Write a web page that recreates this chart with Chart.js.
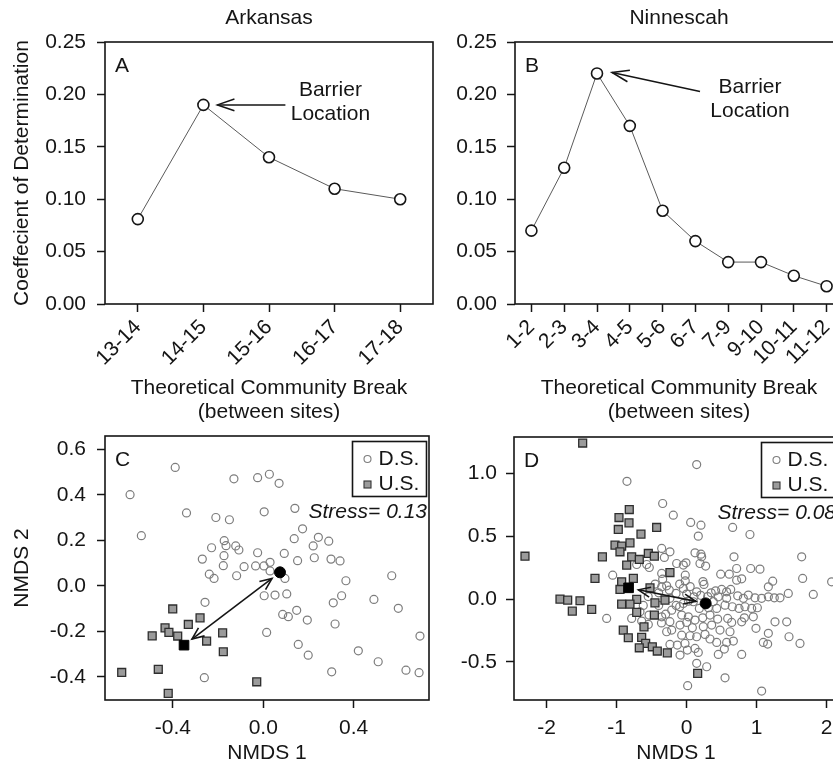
<!DOCTYPE html>
<html>
<head>
<meta charset="utf-8">
<title>Barrier location and NMDS ordination</title>
<script src="https://cdn.jsdelivr.net/npm/chart.js@4.4.1/dist/chart.umd.min.js"></script>
<style>
  html, body { margin: 0; padding: 0; background: #fff; overflow: hidden; }
  #fig { position: relative; width: 833px; height: 771px; overflow: hidden; background: #fff; }
  #fig canvas { position: absolute; }
</style>
</head>
<body>
<div id="fig">
  <canvas id="panelA" width="470" height="430" style="left:0;top:0"></canvas>
  <canvas id="panelB" width="470" height="430" style="left:415px;top:0"></canvas>
  <canvas id="panelC" width="470" height="386" style="left:0;top:385px"></canvas>
  <canvas id="panelD" width="470" height="386" style="left:415px;top:385px"></canvas>
</div>
<script>
// --- Panel A / B : coefficient of determination per community break ---
const ARK_BREAKS = ['13-14', '14-15', '15-16', '16-17', '17-18'];
const ARK_R2 = [0.081, 0.19, 0.14, 0.11, 0.10];

const NIN_BREAKS = ['1-2', '2-3', '3-4', '4-5', '5-6', '6-7', '7-9', '9-10', '10-11', '11-12'];
const NIN_R2 = [0.07, 0.13, 0.22, 0.17, 0.089, 0.06, 0.04, 0.04, 0.027, 0.017];

const R2_TICKS = [0, 0.05, 0.10, 0.15, 0.20, 0.25];

// --- Panel C : Arkansas NMDS ---
const C_DS = [
  [-0.59, 0.40], [-0.54, 0.22], [-0.39, 0.52], [-0.34, 0.32], [-0.21, 0.30], [-0.15, 0.29],
  [-0.13, 0.47], [-0.025, 0.475], [0.027, 0.49], [0.07, 0.45], [0.004, 0.325], [0.14, 0.34],
  [0.174, 0.25], [0.137, 0.207], [0.244, 0.213], [0.29, 0.196], [0.221, 0.175],
  [-0.173, 0.198], [-0.165, 0.176], [-0.122, 0.175], [-0.108, 0.157], [-0.229, 0.167],
  [-0.27, 0.117], [-0.174, 0.132], [-0.177, 0.088], [-0.239, 0.051], [-0.218, 0.032],
  [-0.118, 0.044], [-0.085, 0.084], [-0.034, 0.087], [-0.025, 0.145], [0.003, 0.087],
  [0.03, 0.103], [0.093, 0.142], [0.152, 0.11], [0.226, 0.123], [0.30, 0.117], [0.34, 0.109],
  [0.096, 0.032], [0.03, 0.065], [0.366, 0.022], [0.569, 0.044],
  [-0.258, -0.073], [0.004, -0.044], [0.052, -0.041], [0.104, -0.036], [0.347, -0.044],
  [0.31, -0.075], [0.49, -0.06], [0.598, -0.099], [0.086, -0.126], [0.111, -0.136],
  [0.148, -0.108], [0.195, -0.151], [0.318, -0.168], [0.015, -0.205], [0.694, -0.221],
  [0.155, -0.258], [0.199, -0.305], [0.421, -0.286], [0.509, -0.334], [0.303, -0.378],
  [0.632, -0.371], [0.69, -0.382], [-0.261, -0.404]
];
const C_US = [
  [-0.401, -0.102], [-0.28, -0.141], [-0.332, -0.17], [-0.435, -0.185], [-0.418, -0.205],
  [-0.492, -0.22], [-0.379, -0.221], [-0.251, -0.243], [-0.18, -0.207], [-0.177, -0.29],
  [-0.627, -0.381], [-0.465, -0.367], [-0.421, -0.473], [-0.029, -0.422]
];
const C_DS_CENTROID = [[0.074, 0.059]];
const C_US_CENTROID = [[-0.351, -0.261]];
const C_X_TICKS = [-0.4, 0, 0.4];
const C_Y_TICKS = [-0.4, -0.2, 0, 0.2, 0.4, 0.6];

// --- Panel D : Ninnescah NMDS ---
const D_DS = [
  [0.143, 1.072], [-0.853, 0.939], [-0.343, 0.762], [-0.191, 0.669], [0.057, 0.611], [0.204, 0.589],
  [0.166, 0.502], [0.657, 0.571], [0.904, 0.515],
  [-0.357, 0.404], [-0.239, 0.377], [-0.319, 0.332], [0.119, 0.369], [0.204, 0.358], [0.214, 0.337],
  [-0.010, 0.289], [0.190, 0.284], [0.271, 0.263], [0.676, 0.337], [1.643, 0.337],
  [0.714, 0.244], [0.914, 0.244], [1.047, 0.239], [-0.714, 0.276], [-0.571, 0.276], [-0.534, 0.252],
  [-0.143, 0.284], [-0.048, 0.271],
  [1.657, 0.165], [2.071, 0.138], [1.809, 0.037], [0.486, 0.199], [0.609, 0.199], [1.229, 0.143],
  [1.167, 0.098], [0.714, 0.151], [0.786, 0.162],
  [-0.357, 0.205], [-0.343, 0.159], [-0.02, 0.191], [-0.02, 0.145], [0.233, 0.14],
  [0.414, 0.066], [0.5, 0.077], [0.571, 0.058], [0.629, 0.077], [0.247, 0.117], [0.452, 0.018],
  [-0.357, 0.098], [-0.286, 0.106], [-0.248, 0.072], [-0.152, 0.045], [-0.239, 0.006], [-0.048, 0.085],
  [0.024, -0.016], [0.104, 0.018], [0.143, 0.058], [-0.048, -0.034], [0.095, -0.021],
  [0.571, 0.006], [0.729, 0.026], [0.810, 0.006], [0.881, 0.032], [0.976, 0.010], [1.071, 0.006],
  [1.167, 0.018], [1.252, 0.010], [1.333, 0.010], [1.452, 0.045],
  [0.181, -0.074], [0.310, -0.069], [0.429, -0.074], [0.548, -0.048], [0.652, -0.061], [0.748, -0.074],
  [0.833, -0.061], [0.929, -0.074], [1.010, -0.069],
  [-1.143, -0.154], [-1.057, 0.191],
  [-0.667, -0.101], [-0.538, -0.127], [-0.357, -0.141], [-0.214, -0.088], [-0.071, -0.127],
  [0.024, -0.141], [0.119, -0.167], [0.229, -0.149], [0.333, -0.127], [0.443, -0.159], [0.586, -0.154],
  [0.643, -0.186], [0.824, -0.149], [0.952, -0.141], [-0.786, -0.154], [-0.643, -0.175],
  [-0.548, -0.202], [-0.36, -0.19], [-0.24, -0.18],
  [-0.095, -0.207], [0, -0.186], [0.081, -0.228], [0.238, -0.220], [0.357, -0.207], [0.476, -0.247],
  [0.619, -0.260], [0.786, -0.181], [0.990, -0.233], [1.167, -0.273], [1.262, -0.181], [1.429, -0.181],
  [1.462, -0.300], [1.619, -0.353], [1.095, -0.345], [1.157, -0.358],
  [-0.286, -0.260], [-0.214, -0.247], [-0.071, -0.287], [0.048, -0.292], [0.143, -0.300],
  [0.262, -0.281], [0.333, -0.318], [0.429, -0.345], [0.571, -0.345], [0.667, -0.334],
  [-0.239, -0.361], [-0.134, -0.366], [-0.024, -0.353], [0.119, -0.393], [0.166, -0.425],
  [-0.095, -0.446], [0.010, -0.406], [0.452, -0.441], [0.538, -0.398], [0.786, -0.441],
  [0.143, -0.512], [0.286, -0.539], [0.548, -0.627], [0.014, -0.690], [1.071, -0.733],
  [-0.45, 0.12], [-0.40, 0.05], [-0.10, 0.12], [0.05, 0.10], [0.35, 0.05], [-0.55, 0.02],
  [-0.62, -0.05], [-0.40, -0.05], [-0.30, -0.12], [-0.15, -0.05], [0.30, 0.02], [0.38, -0.02],
  [0.20, 0.03], [0.00, 0.04], [-0.10, -0.06]
];
const D_US = [
  [-1.486, 1.244], [-2.310, 0.342], [-0.820, 0.714], [-0.967, 0.650], [-0.824, 0.608], [-0.977, 0.555],
  [-0.429, 0.571], [-0.653, 0.518], [-1.024, 0.430], [-0.929, 0.422], [-0.810, 0.448], [-1.204, 0.337],
  [-0.953, 0.377], [-0.786, 0.337], [-0.677, 0.316], [-0.548, 0.364], [-0.462, 0.342], [-0.857, 0.271],
  [-1.310, 0.165], [-0.762, 0.165], [-0.239, 0.212], [-0.929, 0.138], [-1.810, 0.000], [-1.700, -0.008],
  [-1.524, -0.013], [-1.634, -0.096], [-1.357, -0.082], [-0.953, 0.077], [-0.714, -0.002], [-0.929, -0.040],
  [-0.810, -0.040], [-0.714, -0.106], [-0.453, -0.030], [-0.524, 0.090], [-0.310, -0.008], [-0.462, -0.127],
  [-0.906, -0.247], [-0.610, -0.221], [-0.643, -0.305], [-0.834, -0.308], [-0.586, -0.353], [-0.677, -0.388],
  [-0.491, -0.380], [-0.420, -0.414], [-0.277, -0.428], [0.157, -0.592]
];
const D_DS_CENTROID = [[0.271, -0.034]];
const D_US_CENTROID = [[-0.83, 0.09]];
const D_X_TICKS = [-2, -1, 0, 1, 2];
const D_Y_TICKS = [-0.5, 0, 0.5, 1.0];

const FONT = "'Liberation Sans', Arial, Helvetica, sans-serif";
const INK = '#151515';
const FS = 21;

Chart.defaults.font.family = FONT;
Chart.defaults.font.size = FS;
Chart.defaults.color = INK;

// per-panel decorations (titles, letters, notes, legend box)
const DECOR = {
  panelA: { title: 'Arkansas', letter: 'A',
            note: { index: 1, tip: [14, 0], tail: [82, 0], text: [127, -15] } },
  panelB: { title: 'Ninnescah', letter: 'B',
            note: { index: 2, tip: [15, -1], tail: [103, 18], text: [153, 14] } },
  panelC: { letter: 'C', stress: 'Stress= 0.13', legend: true,
            from: C_US_CENTROID[0], to: C_DS_CENTROID[0] },
  panelD: { letter: 'D', stress: 'Stress= 0.08', legend: true,
            from: D_US_CENTROID[0], to: D_DS_CENTROID[0] }
};

function arrowHead(ctx, x, y, fromX, fromY, len, half) {
  const ang = Math.atan2(y - fromY, x - fromX);
  ctx.beginPath();
  ctx.moveTo(x - len * Math.cos(ang - half), y - len * Math.sin(ang - half));
  ctx.lineTo(x, y);
  ctx.lineTo(x - len * Math.cos(ang + half), y - len * Math.sin(ang + half));
  ctx.stroke();
}

const panelDecor = {
  id: 'panelDecor',
  beforeDatasetsDraw(chart) {
    const { ctx, chartArea: a } = chart;
    ctx.save();
    ctx.strokeStyle = INK;
    ctx.lineWidth = 1.6;
    ctx.strokeRect(a.left, a.top, a.right - a.left, a.bottom - a.top);
    ctx.restore();
  },
  afterDraw(chart) {
    const d = DECOR[chart.canvas.id];
    const { ctx, chartArea: a } = chart;
    ctx.save();
    ctx.fillStyle = INK;
    ctx.strokeStyle = INK;
    ctx.font = FS + 'px ' + FONT;
    ctx.textBaseline = 'middle';

    if (d.title) {
      ctx.textAlign = 'center';
      ctx.fillText(d.title, (a.left + a.right) / 2, 18);
    }
    ctx.textAlign = 'left';
    ctx.fillText(d.letter, a.left + 10, a.top + 24);

    // "Barrier Location" note pointing at a data point
    if (d.note) {
      const p = chart.getDatasetMeta(0).data[d.note.index];
      const tx = p.x + d.note.tip[0], ty = p.y + d.note.tip[1];
      const fx = p.x + d.note.tail[0], fy = p.y + d.note.tail[1];
      ctx.lineWidth = 1.5;
      ctx.beginPath();
      ctx.moveTo(fx, fy);
      ctx.lineTo(tx, ty);
      ctx.stroke();
      arrowHead(ctx, tx, ty, fx, fy, 18, 0.33);
      ctx.textAlign = 'center';
      ctx.fillText('Barrier', p.x + d.note.text[0], p.y + d.note.text[1]);
      ctx.fillText('Location', p.x + d.note.text[0], p.y + d.note.text[1] + 24);
    }

    // centroid-to-centroid double arrow
    if (d.from) {
      const xs = chart.scales.x, ys = chart.scales.y;
      const x1 = xs.getPixelForValue(d.from[0]), y1 = ys.getPixelForValue(d.from[1]);
      const x2 = xs.getPixelForValue(d.to[0]), y2 = ys.getPixelForValue(d.to[1]);
      const len = Math.hypot(x2 - x1, y2 - y1), gap = 10;
      const ux = (x2 - x1) / len, uy = (y2 - y1) / len;
      const ax = x1 + ux * gap, ay = y1 + uy * gap;
      const bx = x2 - ux * gap, by = y2 - uy * gap;
      ctx.lineWidth = 1.6;
      ctx.beginPath();
      ctx.moveTo(ax, ay);
      ctx.lineTo(bx, by);
      ctx.stroke();
      arrowHead(ctx, ax, ay, bx, by, 13, 0.4);
      arrowHead(ctx, bx, by, ax, ay, 13, 0.4);
    }

    if (d.stress) {
      ctx.font = 'italic ' + FS + 'px ' + FONT;
      ctx.textAlign = 'right';
      ctx.fillText(d.stress, a.right - 2, a.top + 76);
      ctx.font = FS + 'px ' + FONT;
    }

    if (d.legend) {
      const bw = 74, bh = 55;
      const bl = a.right - 2.5 - bw, bt = a.top + 5.5;
      ctx.lineWidth = 1.6;
      ctx.strokeStyle = INK;
      ctx.strokeRect(bl, bt, bw, bh);
      ctx.textAlign = 'left';
      // D.S. marker
      ctx.lineWidth = 1.1;
      ctx.strokeStyle = '#7d7d7d';
      ctx.beginPath();
      ctx.arc(bl + 15, bt + 17.5, 3.5, 0, Math.PI * 2);
      ctx.stroke();
      ctx.fillText('D.S.', bl + 26, bt + 17.5);
      // U.S. marker
      ctx.fillStyle = '#9b9b9b';
      ctx.strokeStyle = '#333';
      ctx.fillRect(bl + 11.5, bt + 39.5, 7, 7);
      ctx.strokeRect(bl + 11.5, bt + 39.5, 7, 7);
      ctx.fillStyle = INK;
      ctx.fillText('U.S.', bl + 26, bt + 43);
    }
    ctx.restore();
  }
};

const tickOnly = {
  display: true, drawOnChartArea: false, drawTicks: true,
  tickLength: 8, tickColor: INK, tickWidth: 1.5
};

function breakChart(id, labels, values, yWidth, yPad, showYTitle) {
  return new Chart(document.getElementById(id), {
    type: 'line',
    data: {
      labels: labels,
      datasets: [{
        data: values,
        borderColor: '#5a5a5a',
        borderWidth: 1,
        tension: 0,
        pointRadius: 5.5,
        pointBorderWidth: 1.6,
        pointBorderColor: INK,
        pointBackgroundColor: '#fff'
      }]
    },
    options: {
      responsive: false,
      animation: false,
      devicePixelRatio: 1,
      events: [],
      layout: { padding: { top: 42, right: 470 - 328 - yWidth, left: 0, bottom: 0 } },
      plugins: { legend: { display: false }, tooltip: { enabled: false } },
      scales: {
        x: {
          type: 'category',
          offset: true,
          afterFit: s => { s.height = 126; },
          grid: tickOnly,
          border: { display: false },
          ticks: { autoSkip: false, minRotation: 45, maxRotation: 45, padding: 3, color: INK },
          title: {
            display: true,
            text: ['Theoretical Community Break', '(between sites)'],
            font: { size: FS, lineHeight: 1.15 },
            padding: { top: 0, bottom: 6 },
            color: INK
          }
        },
        y: {
          min: 0,
          max: 0.25,
          afterFit: s => { s.width = yWidth; },
          afterBuildTicks: s => { s.ticks = R2_TICKS.map(v => ({ value: v })); },
          grid: tickOnly,
          border: { display: false },
          ticks: { callback: v => Number(v).toFixed(2), padding: yPad, color: INK },
          title: {
            display: showYTitle,
            text: 'Coeffecient of Determination',
            font: { size: FS, lineHeight: 1.15 },
            padding: { top: 10, bottom: 0 },
            color: INK
          }
        }
      }
    },
    plugins: [panelDecor]
  });
}

function nmdsChart(id, ds, us, dsC, usC, xr, yr, xTicks, yTicks, xDigits, yWidth, top, yPad, showYTitle) {
  return new Chart(document.getElementById(id), {
    type: 'scatter',
    data: {
      datasets: [
        { label: 'U.S. centroid', data: usC, pointStyle: 'rect', pointRadius: 6.8,
          backgroundColor: '#000', borderColor: '#000', borderWidth: 1 },
        { label: 'D.S. centroid', data: dsC, pointStyle: 'circle', pointRadius: 5.5,
          backgroundColor: '#000', borderColor: '#000', borderWidth: 1 },
        { label: 'U.S.', data: us, pointStyle: 'rect', pointRadius: 5.6,
          backgroundColor: '#9b9b9b', borderColor: '#2e2e2e', borderWidth: 1.3 },
        { label: 'D.S.', data: ds, pointStyle: 'circle', pointRadius: 4,
          backgroundColor: 'rgba(255,255,255,0)', borderColor: '#7d7d7d', borderWidth: 1.2 }
      ]
    },
    options: {
      responsive: false,
      animation: false,
      devicePixelRatio: 1,
      events: [],
      layout: { padding: { top: top, right: 470 - 324 - yWidth, left: 0, bottom: 0 } },
      plugins: { legend: { display: false }, tooltip: { enabled: false } },
      scales: {
        x: {
          type: 'linear',
          min: xr[0],
          max: xr[1],
          afterFit: s => { s.height = 71; },
          afterBuildTicks: s => { s.ticks = xTicks.map(v => ({ value: v })); },
          grid: tickOnly,
          border: { display: false },
          ticks: { callback: v => Number(v).toFixed(xDigits), padding: 8, color: INK },
          title: {
            display: true,
            text: 'NMDS 1',
            font: { size: FS, lineHeight: 1.15 },
            padding: { top: 0, bottom: 6 },
            color: INK
          }
        },
        y: {
          type: 'linear',
          min: yr[0],
          max: yr[1],
          afterFit: s => { s.width = yWidth; },
          afterBuildTicks: s => { s.ticks = yTicks.map(v => ({ value: v })); },
          grid: tickOnly,
          border: { display: false },
          ticks: { callback: v => Number(v).toFixed(1), padding: yPad, color: INK },
          title: {
            display: showYTitle,
            text: 'NMDS 2',
            font: { size: FS, lineHeight: 1.15 },
            padding: { top: 10, bottom: 0 },
            color: INK
          }
        }
      }
    },
    plugins: [panelDecor]
  });
}

breakChart('panelA', ARK_BREAKS, ARK_R2, 105, 11, true);
breakChart('panelB', NIN_BREAKS, NIN_R2, 100, 10, false);
nmdsChart('panelC', C_DS, C_US, C_DS_CENTROID, C_US_CENTROID,
  [-0.701, 0.734], [-0.502, 0.658], C_X_TICKS, C_Y_TICKS, 1, 105, 51, 11, true);
nmdsChart('panelD', D_DS, D_US, D_DS_CENTROID, D_US_CENTROID,
  [-2.467, 2.162], [-0.804, 1.292], D_X_TICKS, D_Y_TICKS, 0, 99, 52, 9, false);
</script>
</body>
</html>
